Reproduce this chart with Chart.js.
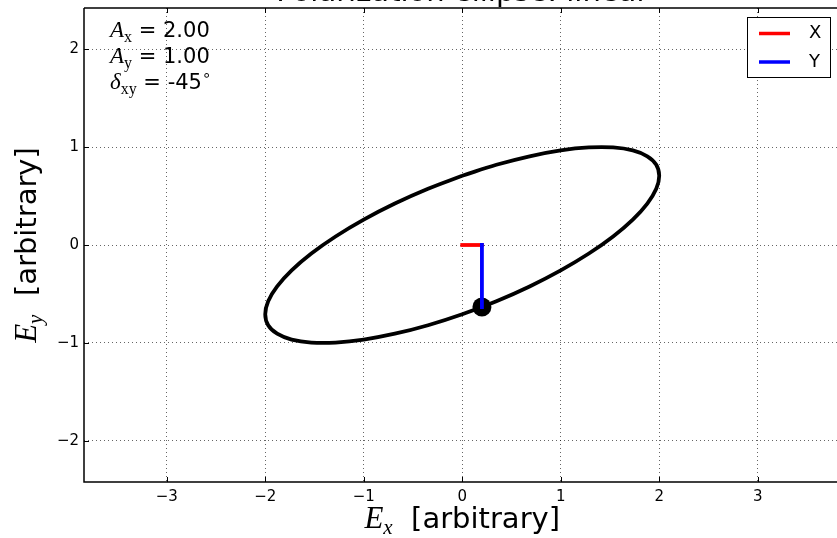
<!DOCTYPE html>
<html>
<head>
<meta charset="utf-8">
<script src="https://cdn.jsdelivr.net/npm/chart.js@4.4.0/dist/chart.umd.min.js"></script>
<style>
  html, body { margin: 0; padding: 0; background: #fff; }
  #wrap { width: 837px; height: 538px; }
</style>
</head>
<body>
<div id="wrap"><canvas id="myChart" width="837" height="538"></canvas></div>
<script>
// ellipse traced by the field tip
const ellipseX = [0, 0.347, 0.684, 1.000, 1.286, 1.532, 1.732, 1.879, 1.970, 2.000, 1.970, 1.879, 1.732, 1.532, 1.286, 1.000, 0.684, 0.347, 0,
  -0.347, -0.684, -1.000, -1.286, -1.532, -1.732, -1.879, -1.970, -2.000, -1.970, -1.879, -1.732, -1.532, -1.286, -1.000, -0.684, -0.347, 0];
const ellipseY = [0.707, 0.819, 0.906, 0.966, 0.996, 0.996, 0.966, 0.906, 0.819, 0.707, 0.574, 0.423, 0.259, 0.087, -0.087, -0.259, -0.423, -0.574, -0.707,
  -0.819, -0.906, -0.966, -0.996, -0.996, -0.966, -0.906, -0.819, -0.707, -0.574, -0.423, -0.259, -0.087, 0.087, 0.259, 0.423, 0.574, 0.707];

// field components at the current instant
const compXx = [0, 0.2];
const compXy = [0, 0];
const compYx = [0.2, 0.2];
const compYy = [0, -0.633];
const tipX = [0.2];
const tipY = [-0.633];

const xTicks = [-3, -2, -1, 0, 1, 2, 3];
const yTicks = [-2, -1, 0, 1, 2];

const infoSymbols = ["A", "A", "δ"];
const infoSubs = ["x", "y", "xy"];
const infoValues = ["2.00", "1.00", "-45"];

const chartTitle = "Polarization ellipse: linear";

const SANS = '"DejaVu Sans", sans-serif';
const SERIF = '"Liberation Serif", serif';

const toPoints = (xs, ys) => xs.map((x, i) => ({ x: x, y: ys[i] }));
const fmtTick = (v) => (v < 0 ? "\u2212" + Math.abs(v) : String(v));

// draws text made of several font runs, returns its width
function drawRuns(ctx, runs, x, y, measureOnly) {
  let w = 0;
  runs.forEach((r) => {
    ctx.font = r.font;
    if (!measureOnly) ctx.fillText(r.text, x + w, y + (r.dy || 0));
    w += ctx.measureText(r.text).width;
  });
  return w;
}

// no extra room for tick labels sticking out, the frame is fixed
function noPadding(s) {
  s.paddingTop = 0;
  s.paddingBottom = 0;
  s.paddingLeft = 0;
  s.paddingRight = 0;
}

const decorations = {
  id: "decorations",
  afterDraw(chart) {
    const ctx = chart.ctx;
    const a = chart.chartArea;
    const xs = chart.scales.x;
    const ys = chart.scales.y;
    ctx.save();
    ctx.fillStyle = "#000";
    ctx.strokeStyle = "#000";

    // spines
    ctx.lineWidth = 1.5;
    ctx.beginPath();
    ctx.moveTo(a.left, a.top);
    ctx.lineTo(a.right, a.top);
    ctx.moveTo(a.left, a.top);
    ctx.lineTo(a.left, a.bottom);
    ctx.lineTo(a.right, a.bottom);
    ctx.stroke();

    // inward ticks
    ctx.lineWidth = 1;
    ctx.beginPath();
    xTicks.forEach((v) => {
      const px = Math.round(xs.getPixelForValue(v)) + 0.5;
      ctx.moveTo(px, a.bottom);
      ctx.lineTo(px, a.bottom - 5);
      ctx.moveTo(px, a.top);
      ctx.lineTo(px, a.top + 5);
    });
    yTicks.forEach((v) => {
      const py = Math.round(ys.getPixelForValue(v)) + 0.5;
      ctx.moveTo(a.left, py);
      ctx.lineTo(a.left + 5, py);
    });
    ctx.stroke();

    // title (cut by the top edge)
    ctx.textBaseline = "alphabetic";
    ctx.textAlign = "center";
    ctx.font = "29px " + SANS;
    ctx.fillText(chartTitle, xs.getPixelForValue(0), 1);
    ctx.textAlign = "left";

    // x axis label
    const xRuns = [
      { text: "E", font: "italic 31px " + SERIF },
      { text: "x", font: "italic 21px " + SERIF, dy: 6 },
      { text: "  [arbitrary]", font: "29px " + SANS },
    ];
    const xw = drawRuns(ctx, xRuns, 0, 0, true);
    drawRuns(ctx, xRuns, xs.getPixelForValue(0) - xw / 2, 528);

    // y axis label
    const yRuns = [
      { text: "E", font: "italic 31px " + SERIF },
      { text: "y", font: "italic 21px " + SERIF, dy: 6 },
      { text: "  [arbitrary]", font: "29px " + SANS },
    ];
    const yw = drawRuns(ctx, yRuns, 0, 0, true);
    ctx.save();
    ctx.translate(36, ys.getPixelForValue(0));
    ctx.rotate(-Math.PI / 2);
    drawRuns(ctx, yRuns, -yw / 2, 0);
    ctx.restore();

    // parameter box
    infoSymbols.forEach((sym, i) => {
      const runs = [
        { text: sym, font: "italic 23px " + SERIF },
        { text: infoSubs[i], font: "16px " + SERIF, dy: 5 },
        { text: " = " + infoValues[i], font: "21px " + SANS },
      ];
      if (i === 2) runs.push({ text: "\u2218", font: "15px " + SANS, dy: -9 });
      drawRuns(ctx, runs, 110, 37 + i * 26);
    });

    // legend
    const items = chart.data.datasets.filter((d) => d.label);
    ctx.fillStyle = "#fff";
    ctx.fillRect(747.5, 17.5, 83, 60);
    ctx.lineWidth = 1;
    ctx.strokeStyle = "#000";
    ctx.strokeRect(747.5, 17.5, 83, 60);
    ctx.font = "18px " + SANS;
    ctx.textBaseline = "middle";
    items.forEach((d, i) => {
      const ly = 33.5 + i * 28.5;
      ctx.strokeStyle = d.borderColor;
      ctx.lineWidth = 3.5;
      ctx.beginPath();
      ctx.moveTo(759, ly);
      ctx.lineTo(790, ly);
      ctx.stroke();
      ctx.fillStyle = "#000";
      ctx.fillText(d.label, 809, ly);
    });
    ctx.restore();
  },
};

const ctx = document.getElementById("myChart").getContext("2d");
const chart = new Chart(ctx, {
  type: "scatter",
  data: {
    datasets: [
      {
        data: toPoints(ellipseX, ellipseY),
        showLine: true,
        borderColor: "#000",
        borderWidth: 3.8,
        tension: 0.4,
        pointRadius: 0,
        order: 4,
      },
      {
        data: toPoints(tipX, tipY),
        pointRadius: 9.5,
        backgroundColor: "#000",
        borderWidth: 0,
        order: 3,
      },
      {
        label: "X",
        data: toPoints(compXx, compXy),
        showLine: true,
        borderColor: "#ff0000",
        borderWidth: 3.8,
        borderCapStyle: "square",
        pointRadius: 0,
        order: 2,
      },
      {
        label: "Y",
        data: toPoints(compYx, compYy),
        showLine: true,
        borderColor: "#0000ff",
        borderWidth: 3.8,
        borderCapStyle: "square",
        pointRadius: 0,
        order: 1,
      },
    ],
  },
  options: {
    responsive: false,
    animation: false,
    events: [],
    layout: { autoPadding: false, padding: { top: 8, left: 0, right: 0, bottom: 0 } },
    plugins: { legend: { display: false }, tooltip: { enabled: false } },
    scales: {
      x: {
        type: "linear",
        min: -3.84,
        max: 3.805,
        afterBuildTicks: (s) => { s.ticks = xTicks.map((v) => ({ value: v })); },
        afterFit: (s) => { s.height = 56; noPadding(s); },
        grid: { color: "rgba(0,0,0,0.6)", lineWidth: 1, drawTicks: false },
        border: { display: false, dash: [1, 3] },
        ticks: { color: "#000", padding: 6, font: { family: SANS, size: 15 }, callback: fmtTick },
      },
      y: {
        type: "linear",
        min: -2.42,
        max: 2.42,
        afterBuildTicks: (s) => { s.ticks = yTicks.map((v) => ({ value: v })); },
        afterFit: (s) => { s.width = 84; noPadding(s); },
        grid: { color: "rgba(0,0,0,0.6)", lineWidth: 1, drawTicks: false },
        border: { display: false, dash: [1, 3] },
        ticks: { color: "#000", padding: 5, font: { family: SANS, size: 15 }, callback: fmtTick },
      },
    },
  },
  plugins: [decorations],
});
</script>
</body>
</html>
